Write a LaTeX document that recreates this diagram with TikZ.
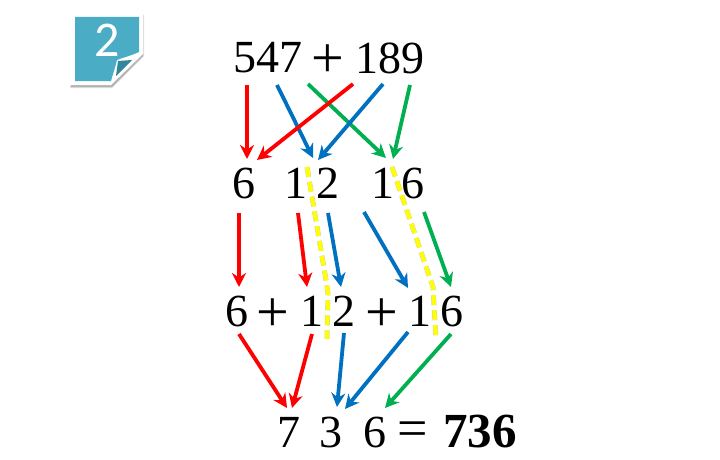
\documentclass[tikz,border=0pt]{standalone}
\usepackage{fontspec}
\setmainfont{Liberation Serif}
\newfontfamily\notefont{Carlito}
\usetikzlibrary{arrows.meta}
\tikzset{
  num/.style={inner sep=0pt,font=\fontsize{46}{46}\selectfont},
  sym/.style={inner sep=0pt,font=\fontsize{58}{58}\selectfont},
  eqsym/.style={inner sep=0pt,font=\fontsize{54}{54}\selectfont},
  numbold/.style={inner sep=0pt,font=\fontsize{49}{49}\selectfont\bfseries},
  arr/.style={line width=3.8pt,-{Stealth[length=14pt,width=14pt,inset=4.5pt]}},
  redarr/.style={arr,draw={rgb,255:red,255;green,0;blue,0},fill={rgb,255:red,255;green,0;blue,0}},
  bluearr/.style={arr,draw={rgb,255:red,0;green,112;blue,192},fill={rgb,255:red,0;green,112;blue,192}},
  greenarr/.style={arr,draw={rgb,255:red,0;green,176;blue,80},fill={rgb,255:red,0;green,176;blue,80}},
  guide/.style={line width=4.2pt,draw={rgb,255:red,255;green,255;blue,0},dash pattern=on 10pt off 5pt},
  guideshadow/.style={line width=5pt,draw=black,opacity=.2,dash pattern=on 10pt off 5pt,xshift=-2pt,yshift=-1.5pt}
}
\definecolor{notefill}{RGB}{75,172,198}
\definecolor{notefold}{RGB}{49,133,156}
\begin{document}
\begin{tikzpicture}[x=1pt,y=-1pt]
\useasboundingbox (0,0) rectangle (720,460);

% sticky note
\fill[black!12] (70,15) -- (144,15) -- (144,56) -- (112,88) -- (70,88) -- cycle;
\fill[black!30] (71,15) -- (143,15) -- (143,56) -- (112,87) -- (71,87) -- cycle;
\fill[white] (70,13) -- (143,13) -- (143,54) -- (111,85) -- (70,85) -- cycle;
\fill[notefill] (75,17) -- (139,17) -- (139,52) .. controls (130,56) and (122,58) .. (117,60) .. controls (115,68) and (113,74) .. (111,81) -- (75,81) -- cycle;
\fill[notefold] (118,61) -- (132,60) -- (116,76) -- cycle;
\node[text=white,inner sep=0pt,font=\fontsize{50}{50}\selectfont\notefont] (note) at (107,40) {2};

% first row
\node[num] (a) at (268,58) {547};
\node[sym] (p0) at (328,61) {+};
\node[num] (b) at (390,58) {189};

\coordinate (r1a) at (247,85);  \coordinate (r1b) at (277,85);
\coordinate (r1c) at (308,84);  \coordinate (r1d) at (353,84);
\coordinate (r1e) at (383,84);  \coordinate (r1f) at (410,85);

% second row
\node[num] (s6) at (244,183) {6};
\node[num] (s1) at (296,183) {1};
\node[num] (s2) at (328,183) {2};
\node[num] (t1) at (383,183) {1};
\node[num] (t6) at (413,183) {6};

\coordinate (r2a) at (247,159);  \coordinate (r2b) at (313,158);
\coordinate (r2c) at (386,158);  \coordinate (r2d) at (257,160);
\coordinate (r2e) at (318,160);  \coordinate (r2f) at (393,159);

\draw[redarr] (r1a) -- (r2a);
\draw[bluearr] (r1b) -- (r2b);
\draw[greenarr] (r1c) -- (r2c);
\draw[redarr] (r1d) -- (r2d);
\draw[bluearr] (r1e) -- (r2e);
\draw[greenarr] (r1f) -- (r2f);

% third row
\node[num] (u6) at (237,311) {6};
\node[sym] (p1) at (273,315) {+};
\node[num] (u1) at (312,311) {1};
\node[num] (u2) at (344,311) {2};
\node[sym] (p2) at (382,315) {+};
\node[num] (v1) at (420,311) {1};
\node[num] (v6) at (452,311) {6};

\coordinate (r3a) at (239,213);  \coordinate (r3b) at (298,213);
\coordinate (r3c) at (328,213);  \coordinate (r3d) at (364,212);
\coordinate (r3e) at (424,212);
\coordinate (r4a) at (239,287);  \coordinate (r4b) at (307,287);
\coordinate (r4c) at (341,287);  \coordinate (r4d) at (408,288);
\coordinate (r4e) at (451,287);

\draw[redarr] (r3a) -- (r4a);
\draw[redarr] (r3b) -- (r4b);
\draw[bluearr] (r3c) -- (r4c);
\draw[bluearr] (r3d) -- (r4d);
\draw[greenarr] (r3e) -- (r4e);

% last row
\node[num] (w7) at (289,432) {7};
\node[num] (w3) at (331,432) {3};
\node[num] (w6) at (375,432) {6};
\node[eqsym] (eq) at (413,434) {=};
\node[numbold] (res) at (480,432) {736};

\coordinate (r5a) at (239,334);  \coordinate (r5b) at (312,334);
\coordinate (r5c) at (344,333);  \coordinate (r5d) at (408,332);
\coordinate (r5e) at (451,334);
\coordinate (r6a) at (287,408);  \coordinate (r6b) at (292,408);
\coordinate (r6c) at (337,407);  \coordinate (r6d) at (345,409);
\coordinate (r6e) at (385,408);

\draw[redarr] (r5a) -- (r6a);
\draw[redarr] (r5b) -- (r6b);
\draw[bluearr] (r5c) -- (r6c);
\draw[bluearr] (r5d) -- (r6d);
\draw[greenarr] (r5e) -- (r6e);

% yellow guides
\coordinate (g1a) at (307,167);  \coordinate (g1b) at (326,280);
\coordinate (g1c) at (328,293);  \coordinate (g1d) at (327,339);
\coordinate (g2a) at (392,167);  \coordinate (g2b) at (433,287);
\coordinate (g2c) at (436,340);

\draw[guideshadow] (g1a) -- (g1b) -- (g1c) -- (g1d);
\draw[guideshadow] (g2a) -- (g2b) -- (g2c);
\draw[guide] (g1a) -- (g1b) -- (g1c) -- (g1d);
\draw[guide] (g2a) -- (g2b) -- (g2c);
\end{tikzpicture}
\end{document}
